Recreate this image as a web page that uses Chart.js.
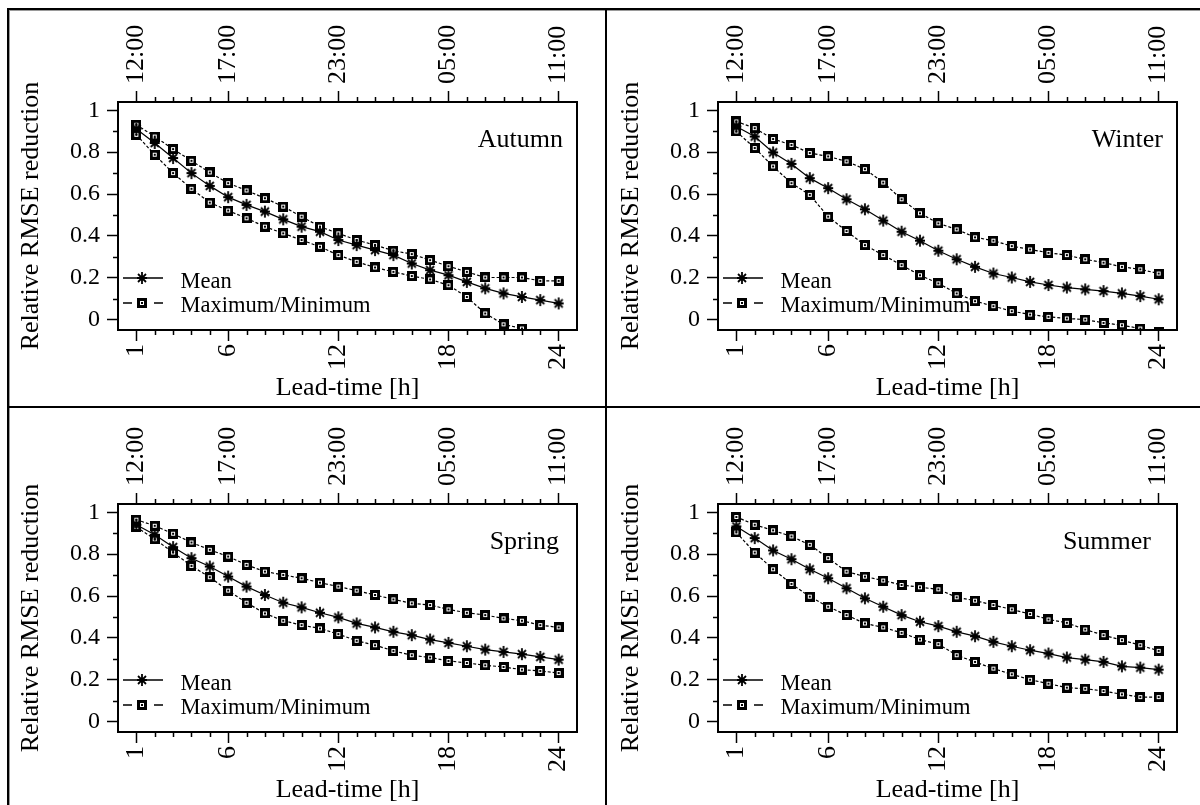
<!DOCTYPE html>
<html>
<head>
<meta charset="utf-8">
<script src="https://cdn.jsdelivr.net/npm/chart.js@4.4.0/dist/chart.umd.min.js"></script>
<style>
html, body { margin: 0; padding: 0; background: #fff; }
#wrap { position: relative; width: 1200px; height: 805px; overflow: hidden; background: #fff; }
#wrap canvas { position: absolute; }
.rule { position: absolute; background: #000; z-index: 2; }
.soft { position: absolute; background: #9a9a9a; z-index: 2; }
</style>
</head>
<body>
<div id="wrap">
  <canvas id="c0" width="600" height="402" style="left:0;top:0"></canvas>
  <canvas id="c1" width="600" height="402" style="left:600px;top:0"></canvas>
  <canvas id="c2" width="600" height="402" style="left:0;top:402px"></canvas>
  <canvas id="c3" width="600" height="402" style="left:600px;top:402px"></canvas>
  <div class="rule" style="left:7px;top:8px;width:2px;height:797px"></div>
  <div class="rule" style="left:7px;top:8px;width:1193px;height:2px"></div>
  <div class="soft" style="left:9px;top:10px;width:1px;height:795px"></div>
  <div class="soft" style="left:9px;top:10px;width:1191px;height:1px"></div>
  <div class="rule" style="left:605px;top:8px;width:2px;height:797px"></div>
  <div class="rule" style="left:7px;top:406px;width:1193px;height:2px"></div>
</div>
<script>
// axes
const leadHours = [1, 2, 3, 4, 5, 6, 7, 8, 9, 10, 11, 12, 13, 14, 15, 16, 17, 18, 19, 20, 21, 22, 23, 24];
const labeledHours = [1, 6, 12, 18, 24];
const clockLabels = ['12:00', '17:00', '23:00', '05:00', '11:00'];
const yTickValues = [0, 0.2, 0.4, 0.6, 0.8, 1];
const yTickLabels = ['0', '0.2', '0.4', '0.6', '0.8', '1'];
const yMinorValues = [0.1, 0.3, 0.5, 0.7, 0.9];
const seriesNames = ['Mean', 'Maximum/Minimum'];
const seasons = ['Autumn', 'Winter', 'Spring', 'Summer'];

// values
const autumnMean = [0.911, 0.844, 0.772, 0.70, 0.639, 0.585, 0.548, 0.516, 0.479, 0.444, 0.42, 0.38, 0.356, 0.332, 0.308, 0.268, 0.236, 0.212, 0.18, 0.149, 0.125, 0.108, 0.093, 0.077];
const autumnMax = [0.931, 0.875, 0.815, 0.759, 0.703, 0.652, 0.617, 0.58, 0.54, 0.492, 0.444, 0.412, 0.38, 0.356, 0.329, 0.313, 0.284, 0.255, 0.228, 0.201, 0.201, 0.201, 0.185, 0.185];
const autumnMin = [0.883, 0.788, 0.70, 0.625, 0.559, 0.521, 0.484, 0.444, 0.412, 0.38, 0.348, 0.308, 0.276, 0.249, 0.228, 0.208, 0.192, 0.164, 0.108, 0.029, -0.023, -0.043, -0.07, -0.09];

const winterMean = [0.923, 0.875, 0.799, 0.744, 0.676, 0.628, 0.575, 0.527, 0.473, 0.42, 0.377, 0.329, 0.288, 0.252, 0.22, 0.201, 0.18, 0.165, 0.153, 0.144, 0.136, 0.125, 0.112, 0.097];
const winterMax = [0.947, 0.915, 0.863, 0.835, 0.796, 0.78, 0.756, 0.719, 0.655, 0.575, 0.508, 0.46, 0.431, 0.393, 0.377, 0.351, 0.335, 0.319, 0.308, 0.288, 0.272, 0.252, 0.24, 0.22];
const winterMin = [0.899, 0.82, 0.732, 0.652, 0.596, 0.492, 0.423, 0.356, 0.308, 0.26, 0.212, 0.173, 0.125, 0.088, 0.064, 0.04, 0.024, 0.013, 0.005, 0.0, -0.016, -0.027, -0.043, -0.06];

const springMean = [0.941, 0.893, 0.834, 0.781, 0.741, 0.693, 0.645, 0.605, 0.568, 0.546, 0.52, 0.498, 0.469, 0.45, 0.429, 0.413, 0.392, 0.376, 0.36, 0.344, 0.333, 0.322, 0.309, 0.296];
const springMax = [0.965, 0.936, 0.898, 0.856, 0.821, 0.789, 0.749, 0.717, 0.701, 0.685, 0.664, 0.645, 0.626, 0.605, 0.584, 0.565, 0.557, 0.536, 0.52, 0.509, 0.493, 0.482, 0.461, 0.45];
const springMin = [0.93, 0.872, 0.808, 0.744, 0.69, 0.626, 0.568, 0.517, 0.482, 0.461, 0.445, 0.418, 0.386, 0.365, 0.338, 0.317, 0.306, 0.29, 0.28, 0.269, 0.261, 0.248, 0.242, 0.232];

const summerMean = [0.933, 0.877, 0.818, 0.776, 0.728, 0.685, 0.637, 0.589, 0.549, 0.509, 0.477, 0.456, 0.429, 0.408, 0.381, 0.36, 0.341, 0.325, 0.306, 0.296, 0.285, 0.264, 0.258, 0.248];
const summerMax = [0.978, 0.941, 0.914, 0.885, 0.845, 0.781, 0.717, 0.693, 0.674, 0.653, 0.642, 0.632, 0.594, 0.578, 0.557, 0.536, 0.514, 0.488, 0.472, 0.44, 0.413, 0.389, 0.365, 0.338];
const summerMin = [0.904, 0.808, 0.728, 0.658, 0.597, 0.549, 0.509, 0.469, 0.45, 0.424, 0.392, 0.37, 0.317, 0.285, 0.253, 0.226, 0.2, 0.181, 0.162, 0.157, 0.146, 0.13, 0.117, 0.117];

const seasonMean = [autumnMean, winterMean, springMean, summerMean];
const seasonMax = [autumnMax, winterMax, springMax, summerMax];
const seasonMin = [autumnMin, winterMin, springMin, summerMin];
const titleInsets = [14, 14, 18, 26];

const SERIF = "'Liberation Serif', 'Times New Roman', serif";
Chart.defaults.font.family = SERIF;
Chart.defaults.color = '#000';

function squareMarker() {
    const c = document.createElement('canvas');
    c.width = 10; c.height = 10;
    const g = c.getContext('2d');
    g.fillStyle = '#000';
    g.fillRect(0, 0, 10, 10);
    g.fillStyle = '#fff';
    g.fillRect(3, 3, 4, 4);
    g.fillStyle = '#000';
    g.fillRect(4, 4, 2, 2);
    return c;
}

function starMarker() {
    const c = document.createElement('canvas');
    c.width = 12; c.height = 14;
    const g = c.getContext('2d');
    g.strokeStyle = '#000';
    g.lineWidth = 1.8;
    g.beginPath();
    g.moveTo(6, 1); g.lineTo(6, 13);
    g.moveTo(1, 7); g.lineTo(11, 7);
    g.moveTo(2, 3); g.lineTo(10, 11);
    g.moveTo(10, 3); g.lineTo(2, 11);
    g.stroke();
    return c;
}

const squareImg = squareMarker();
const starImg = starMarker();

function toPoints(vals) {
    return leadHours.map((h, i) => ({ x: h, y: vals[i] }));
}

// box, short ticks, inset legend and season name
const panelDecor = {
    id: 'panelDecor',
    beforeDatasetsDraw(chart, args, opts) {
        const { ctx, chartArea: a } = chart;
        ctx.save();
        ctx.fillStyle = '#000';
        ctx.strokeStyle = '#000';
        // season
        ctx.font = '26px ' + SERIF;
        ctx.textAlign = 'right';
        ctx.textBaseline = 'alphabetic';
        ctx.fillText(opts.season, a.right - opts.inset, a.top + 45);
        // legend
        const row1 = a.bottom - 52;
        const row2 = a.bottom - 27;
        const x0 = a.left + 5;
        ctx.lineWidth = 1.4;
        ctx.beginPath();
        ctx.moveTo(x0, row1); ctx.lineTo(x0 + 40, row1);
        ctx.moveTo(x0, row2); ctx.lineTo(x0 + 9, row2);
        ctx.moveTo(x0 + 31, row2); ctx.lineTo(x0 + 40, row2);
        ctx.stroke();
        ctx.drawImage(starImg, Math.round(x0 + 19 - 6), Math.round(row1 - 7));
        ctx.drawImage(squareImg, Math.round(x0 + 19 - 5), Math.round(row2 - 5));
        ctx.font = '22.5px ' + SERIF;
        ctx.textAlign = 'left';
        ctx.fillText(seriesNames[0], a.left + 62.5, row1 + 10);
        ctx.fillText(seriesNames[1], a.left + 62.5, row2 + 9);
        ctx.restore();
    },
    afterDraw(chart) {
        const { ctx, chartArea: a, scales } = chart;
        ctx.save();
        ctx.strokeStyle = '#000';
        ctx.lineWidth = 2;
        ctx.strokeRect(a.left, a.top, a.right - a.left, a.bottom - a.top);
        ctx.lineWidth = 1.5;
        ctx.beginPath();
        leadHours.filter(h => !labeledHours.includes(h)).forEach(h => {
            const px = Math.round(scales.x.getPixelForValue(h)) + 0.5;
            ctx.moveTo(px, a.bottom); ctx.lineTo(px, a.bottom + 5);
            ctx.moveTo(px, a.top); ctx.lineTo(px, a.top - 5);
        });
        yMinorValues.forEach(v => {
            const py = Math.round(scales.y.getPixelForValue(v)) + 0.5;
            ctx.moveTo(a.left, py); ctx.lineTo(a.left - 5, py);
        });
        ctx.stroke();
        ctx.restore();
    }
};

function drawPanel(k) {
    const el = document.getElementById('c' + k);
    const lineOpts = { borderColor: '#000', borderWidth: 1.2, tension: 0, clip: 0, fill: false };
    return new Chart(el, {
        type: 'line',
        data: {
            datasets: [
                Object.assign({ label: seriesNames[0], data: toPoints(seasonMean[k]), pointStyle: starImg, pointRadius: 6 }, lineOpts),
                Object.assign({ label: seriesNames[1], data: toPoints(seasonMax[k]), pointStyle: squareImg, pointRadius: 5, borderDash: [3, 2] }, lineOpts),
                Object.assign({ label: seriesNames[1], data: toPoints(seasonMin[k]), pointStyle: squareImg, pointRadius: 5, borderDash: [3, 2] }, lineOpts)
            ]
        },
        options: {
            responsive: false,
            animation: false,
            events: [],
            layout: { padding: { left: 12, right: 23, top: 0, bottom: 1 } },
            scales: {
                x: {
                    type: 'linear',
                    position: 'bottom',
                    min: 0,
                    max: 25,
                    afterBuildTicks: s => { s.ticks = labeledHours.map(v => ({ value: v })); },
                    afterFit: s => { s.height = 71; },
                    ticks: {
                        autoSkip: false,
                        minRotation: 90,
                        maxRotation: 90,
                        padding: 3,
                        color: '#000',
                        font: { size: 26 },
                        callback: v => String(v)
                    },
                    grid: { drawOnChartArea: false, tickLength: 11, tickWidth: 1.5, tickColor: '#000' },
                    border: { display: false },
                    title: { display: true, text: 'Lead-time [h]', color: '#000', font: { size: 26, lineHeight: 1 }, padding: 0 }
                },
                x2: {
                    type: 'linear',
                    position: 'top',
                    min: 0,
                    max: 25,
                    afterBuildTicks: s => { s.ticks = labeledHours.map(v => ({ value: v })); },
                    afterFit: s => { s.height = 102; },
                    ticks: {
                        autoSkip: false,
                        minRotation: 90,
                        maxRotation: 90,
                        padding: 7,
                        labelOffset: 31.2,
                        color: '#000',
                        font: { size: 26 },
                        callback: (v, i) => clockLabels[i]
                    },
                    grid: { drawOnChartArea: false, tickLength: 11, tickWidth: 1.5, tickColor: '#000' },
                    border: { display: false }
                },
                y: {
                    min: -0.05,
                    max: 1.04,
                    afterBuildTicks: s => { s.ticks = yTickValues.map(v => ({ value: v })); },
                    afterFit: s => { s.width = 106; },
                    ticks: {
                        autoSkip: false,
                        padding: 7,
                        color: '#000',
                        font: { size: 24 },
                        callback: (v, i) => yTickLabels[i]
                    },
                    grid: { drawOnChartArea: false, tickLength: 11, tickWidth: 1.5, tickColor: '#000' },
                    border: { display: false },
                    title: { display: true, text: 'Relative RMSE reduction', color: '#000', font: { size: 26, lineHeight: 1.2 }, padding: { top: 4, bottom: 0 } }
                }
            },
            plugins: {
                legend: { display: false },
                tooltip: { enabled: false },
                panelDecor: { season: seasons[k], inset: titleInsets[k] }
            }
        },
        plugins: [panelDecor]
    });
}

[0, 1, 2, 3].forEach(drawPanel);
</script>
</body>
</html>
